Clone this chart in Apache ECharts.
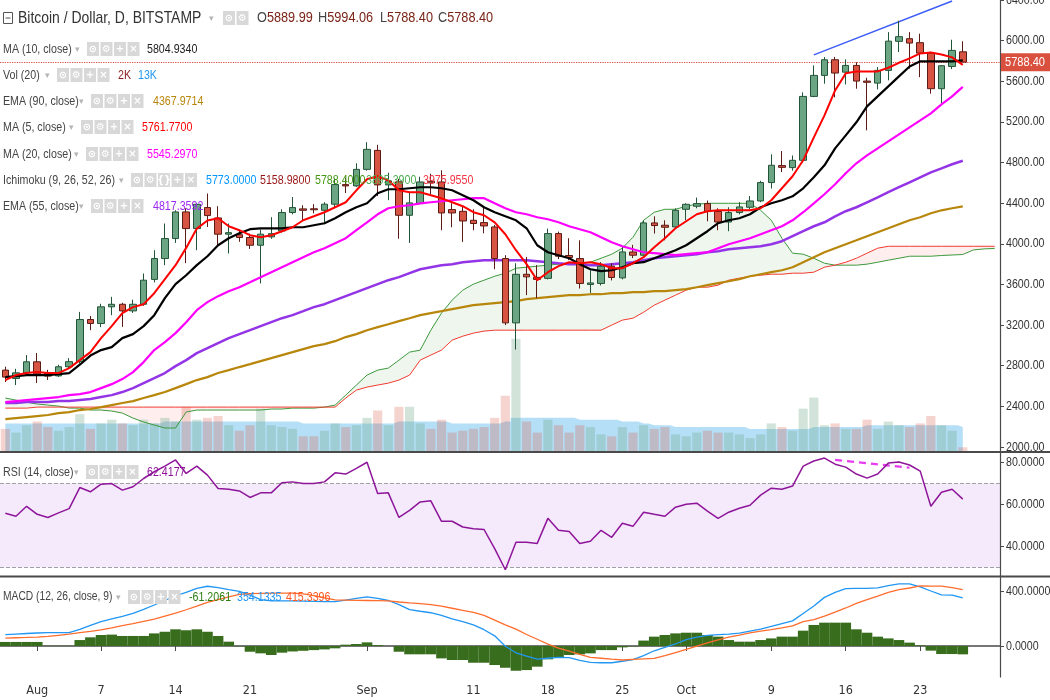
<!DOCTYPE html>
<html><head><meta charset="utf-8">
<script src="https://cdn.jsdelivr.net/npm/echarts@6/dist/echarts.min.js"></script>
<style>html,body{margin:0;padding:0;background:#fff}#c{width:1050px;height:700px}</style>
</head><body><div id="c"></div>
<script>
// ---------------- DATA ----------------
const categories = [
'2017-07-29','2017-07-30','2017-07-31',
'2017-08-01','2017-08-02','2017-08-03','2017-08-04','2017-08-05','2017-08-06','2017-08-07','2017-08-08','2017-08-09','2017-08-10',
'2017-08-11','2017-08-12','2017-08-13','2017-08-14','2017-08-15','2017-08-16','2017-08-17','2017-08-18','2017-08-19','2017-08-20',
'2017-08-21','2017-08-22','2017-08-23','2017-08-24','2017-08-25','2017-08-26','2017-08-27','2017-08-28','2017-08-29','2017-08-30','2017-08-31',
'2017-09-01','2017-09-02','2017-09-03','2017-09-04','2017-09-05','2017-09-06','2017-09-07','2017-09-08','2017-09-09','2017-09-10',
'2017-09-11','2017-09-12','2017-09-13','2017-09-14','2017-09-15','2017-09-16','2017-09-17','2017-09-18','2017-09-19','2017-09-20',
'2017-09-21','2017-09-22','2017-09-23','2017-09-24','2017-09-25','2017-09-26','2017-09-27','2017-09-28','2017-09-29','2017-09-30',
'2017-10-01','2017-10-02','2017-10-03','2017-10-04','2017-10-05','2017-10-06','2017-10-07','2017-10-08','2017-10-09','2017-10-10',
'2017-10-11','2017-10-12','2017-10-13','2017-10-14','2017-10-15','2017-10-16','2017-10-17','2017-10-18','2017-10-19','2017-10-20',
'2017-10-21','2017-10-22','2017-10-23','2017-10-24','2017-10-25','2017-10-26','2017-10-27','2017-10-28','2017-10-29','2017-10-30'];

const xTickLabels = {'2017-08-01':'Aug','2017-08-07':'7','2017-08-14':'14','2017-08-21':'21','2017-09-01':'Sep','2017-09-11':'11',
 '2017-09-18':'18','2017-09-25':'25','2017-10-01':'Oct','2017-10-09':'9','2017-10-16':'16','2017-10-23':'23'};
const priceTicks = [2000,2400,2800,3200,3600,4000,4400,4800,5200,5600,6000,6400];
const rsiTicks = [40,60,80];
const macdTicks = [0,400];

const opens = [2757,2675,2730,
 2839,2730,2700,2790,2840,3255,3216,3380,3405,3340,3405,3650,3855,4052,4314,4150,4357,4255,4095,4090,4062,3986,4068,4127,4308,4344,4345,4330,4390,4583,4570,
 4733,4920,4580,4610,4281,4396,4615,4609,4337,4320,4232,4209,4166,3855,3222,3700,3670,3660,4101,3885,3855,3600,3610,3780,3665,3920,3888,4206,4183,4166,
 4340,4370,4396,4318,4215,4308,4360,4422,4603,4770,4750,4822,5451,5658,5812,5690,5756,5602,5582,5707,5993,6019,5980,5877,5527,5746,5889.99];
const closes = [2688,2730,2839,
 2720,2698,2790,2840,3255,3216,3380,3405,3340,3405,3642,3855,4052,4314,4150,4389,4278,4095,4110,4062,3986,4095,4100,4308,4357,4330,4335,4390,4583,4570,4733,
 4930,4580,4620,4281,4403,4609,4600,4304,4304,4225,4200,4176,3855,3222,3700,3675,3650,4101,3878,3865,3610,3615,3780,3669,3920,3888,4206,4180,4163,4330,
 4389,4396,4318,4215,4308,4363,4422,4603,4773,4753,4822,5451,5658,5812,5681,5756,5602,5590,5707,5995,6039,5976,5877,5527,5753,5904,5788.40];
const highs = [2790,2770,2905,
 2925,2760,2810,2875,3330,3290,3410,3478,3420,3450,3708,3937,4200,4330,4350,4400,4495,4370,4200,4140,4100,4140,4262,4340,4461,4380,4390,4410,4645,4650,4793,
 5000,4975,4700,4640,4510,4660,4690,4724,4400,4363,4340,4360,4186,3888,3809,3871,3790,4150,4120,4055,4035,3740,3820,3810,3970,3990,4230,4271,4232,4350,
 4400,4455,4426,4350,4360,4410,4470,4620,4881,4914,4870,5491,5756,5838,5840,5815,5787,5635,5740,6084,6196,6084,6068,5890,5760,6009,5994.06];
const lows = [2640,2610,2720,
 2630,2660,2690,2770,2820,3150,3180,3298,3183,3320,3390,3620,3790,4009,3810,3937,4166,3970,3905,4020,3950,3610,4050,4110,4290,4230,4300,4193,4350,4500,4560,
 4720,4470,4430,4050,4009,4390,4490,4134,4163,4019,4134,4104,3750,3200,2960,3495,3465,3650,3850,3840,3560,3517,3590,3640,3650,3860,3870,4101,4035,4150,
 4232,4350,4222,4134,4124,4290,4340,4410,4544,4707,4720,4800,5444,5576,5442,5569,5527,5117,5520,5609,5887,5724,5641,5478,5380,5720,5788.40];

const ma5 = [2659,2708,2728,
 2738,2728,2728,2777,2855,2934,3072,3190,3318,3377,3406,3514,3652,3790,3960,4150,4230,4252,4173,4134,4085,4065,4085,4124,4163,4232,4271,4311,4360,4409,4527,
 4635,4665,4625,4527,4507,4507,4478,4448,4409,4370,4311,4281,4212,4094,3937,3800,3642,3721,3780,3819,3809,3819,3800,3760,3760,3809,3868,3967,4055,4153,
 4222,4291,4321,4330,4330,4330,4330,4350,4429,4547,4665,4822,5048,5265,5510,5678,5697,5697,5697,5733,5782,5825,5874,5884,5864,5835,5761.77];
const ma10 = [2688,2698,2708,
 2708,2708,2718,2728,2810,2900,2954,2983,3072,3111,3190,3298,3465,3603,3691,3790,3878,3986,4055,4104,4144,4153,4153,4153,4163,4163,4183,4203,4252,4311,4360,
 4399,4498,4537,4537,4547,4557,4557,4547,4527,4478,4429,4360,4311,4271,4232,4153,3986,3917,3888,3858,3800,3750,3731,3740,3770,3809,3819,3858,3898,3937,
 3986,4055,4124,4203,4232,4252,4291,4360,4399,4429,4468,4547,4655,4773,4940,5068,5196,5353,5451,5550,5648,5746,5796,5796,5796,5796,5804.93];
const ma20 = [2442,2452,2462,
 2472,2482,2492,2511,2521,2541,2580,2619,2669,2737,2836,2954,3032,3121,3229,3347,3426,3485,3534,3573,3622,3672,3721,3770,3819,3868,3917,3957,4006,4055,4134,
 4212,4291,4350,4370,4380,4399,4409,4419,4429,4439,4449,4449,4399,4350,4311,4291,4262,4242,4212,4173,4143,4114,4065,4016,3976,3947,3917,3908,3898,3888,
 3898,3908,3917,3957,3996,4026,4055,4094,4134,4173,4232,4311,4399,4488,4586,4694,4793,4871,4940,5009,5078,5147,5215,5284,5373,5451,5545.30];
const ema55 = [2433,2433,2442,
 2442,2442,2452,2452,2462,2472,2492,2511,2541,2580,2629,2678,2728,2796,2855,2924,2973,3023,3072,3111,3150,3190,3229,3268,3298,3337,3377,3406,3446,3485,3524,
 3564,3603,3642,3672,3711,3750,3770,3790,3800,3819,3829,3839,3839,3839,3839,3839,3829,3819,3809,3800,3800,3790,3790,3800,3809,3819,3839,3858,3868,3878,
 3888,3898,3917,3927,3947,3957,3967,3976,3996,4026,4075,4124,4173,4212,4271,4321,4360,4409,4458,4508,4557,4606,4655,4704,4743,4783,4817.36];
const ema90 = [2275,2285,2295,
 2305,2315,2334,2344,2364,2374,2393,2413,2433,2452,2482,2511,2541,2580,2619,2659,2688,2728,2757,2787,2816,2846,2875,2905,2934,2964,2993,3013,3042,3082,3111,
 3150,3180,3209,3239,3268,3298,3318,3337,3357,3377,3396,3406,3416,3426,3436,3455,3465,3475,3485,3495,3495,3504,3504,3514,3514,3524,3524,3534,3534,3544,
 3554,3573,3593,3613,3632,3652,3681,3701,3721,3740,3770,3819,3868,3917,3957,3996,4035,4075,4114,4153,4193,4232,4262,4301,4330,4350,4367.97];
// Ichimoku leading spans (displaced 26 bars forward, so they run past the last candle)
const spanA = [2482,2462,2442,
 2423,2413,2403,2383,2383,2364,2364,2354,2334,2285,2246,2216,2187,2187,2344,2364,2364,2364,2364,2364,2364,2364,2374,2374,2383,2383,2383,2393,2413,2511,2610,
 2708,2757,2777,2855,2934,2954,3150,3318,3446,3544,3603,3642,3681,3711,3760,3770,3780,3790,3800,3809,3809,3819,3858,3898,3957,4065,4232,4311,4340,4340,
 4370,4390,4399,4399,4399,4399,4399,4330,4232,4055,3908,3898,3858,3809,3790,3790,3790,3800,3819,3839,3858,3878,3878,3878,3885,3890,3895,3940,3950,3955];
const spanB = [2383,2383,2383,
 2393,2393,2393,2393,2393,2393,2393,2393,2393,2393,2393,2393,2393,2393,2393,2393,2393,2393,2393,2393,2393,2393,2393,2393,2393,2393,2393,2393,2393,2482,2560,
 2590,2610,2629,2659,2708,2855,2905,2954,3052,3091,3121,3141,3150,3150,3150,3150,3150,3150,3150,3150,3150,3150,3150,3200,3249,3268,3327,3396,3446,3495,
 3544,3573,3573,3593,3642,3662,3681,3691,3701,3701,3711,3711,3721,3770,3790,3819,3858,3908,3957,3976,3976,3976,3976,3976,3976,3976,3976,3976,3976,3976];

const volumesK = [12,10,14,
 16,13,11,13,20,12,15,17,15,14,17,15,18,16,24,17,18,19,14,11,14,23,14,13,12,8,8,11,15,13,14,
 18,22,14,24,24,15,12,17,10,11,12,13,18,30,61,16,10,17,14,10,14,13,9,8,13,10,14,12,13,9,
 8,10,11,10,10,9,7,9,15,13,11,23,29,14,15,12,12,17,12,16,14,13,15,19,14,11,2];
const volumeMaK = [15,15,15,
 15,15,15,15,15,15,15,15,15,15,15,15,16,16,16,16,16,16,16,16,16,16,16,16,16,15,15,15,15,15,15,
 15,15,15,16,16,16,16,16,15,15,15,15,15,16,18,18,18,18,18,18,17,17,17,17,16,16,15,14,14,13,
 13,13,13,13,13,13,12,12,12,12,12,12,13,13,13,13,13,14,14,14,14,14,14,14,14,14,13];

const rsi = [55.7,54.3,59.0,
 55.2,53.7,55.9,57.9,67.9,65.9,69.5,69.8,66.7,68.3,72.2,75.4,78.1,81.0,74.6,78.1,73.8,67.5,67.1,66.3,63.2,65.4,65.4,70.2,70.6,69.8,69.8,70.6,74.9,74.3,77.0,
 79.9,65.1,65.4,53.7,57.1,61.1,61.6,51.9,51.9,49.2,48.4,48.0,38.9,28.9,42.0,41.9,41.4,53.3,47.6,47.1,41.4,42.4,47.6,44.3,51.0,49.5,56.2,55.2,54.3,58.6,
 60.0,60.5,56.7,53.3,56.2,58.1,59.5,64.3,67.6,67.1,68.6,78.1,80.5,81.9,79.0,77.6,74.3,72.4,74.3,79.5,80.0,78.6,75.7,59.0,65.7,67.1,62.4177];
const macdLine = [84,88,92,
 96,98,98,98,123,152,180,200,218,240,270,302,335,370,395,425,440,430,415,402,375,342,333,333,333,331,329,327,327,338,350,
 362,350,335,305,268,256,245,225,200,180,155,120,75,-2,-50,-75,-97,-90,-83,-85,-105,-120,-123,-123,-112,-100,-70,-35,-10,15,
 47,65,78,84,88,95,110,125,145,165,185,240,295,358,395,423,425,425,428,445,457,457,435,405,376,374,354.1335];
const signalLine = [58,61,63,
 66,71,79,87,98,108,119,134,150,165,181,198,220,242,267,293,322,342,361,380,385,387,389,390,390,384,371,355,339,338,336,
 335,334,333,324,317,312,305,293,278,263,248,225,190,155,124,85,50,14,-15,-38,-62,-84,-90,-97,-103,-99,-95,-91,-71,-48,
 -25,0,23,46,66,81,97,110,121,133,148,180,195,220,250,280,314,342,368,395,415,427,442,441,441,430,415.3396];
const macdHist = [30,30,30,
 30,2,2,2,44,64,81,84,74,74,74,93,105,123,116,123,105,74,32,-3,-42,-54,-66,-49,-40,-35,-30,-25,-17,10,15,
 27,7,0,-42,-61,-61,-61,-91,-103,-103,-123,-123,-140,-160,-182,-177,-152,-98,-83,-66,-61,-54,-30,-30,-10,-3,40,69,81,93,
 98,98,81,69,44,32,32,44,56,69,69,113,155,172,172,172,123,98,69,56,44,25,5,-34,-59,-59,-61.2061];

const lastPrice = 5788.40;
const trendLine = [['2017-10-13', 5860], ['2017-10-26', 6390]];
const rsiDivergence = [['2017-10-15', 81.0], ['2017-10-22', 77.3]];

// legend texts
const titleText = 'Bitcoin / Dollar, D, BITSTAMP';
const ohlcText = [['O','5889.99'],['H','5994.06'],['L','5788.40'],['C','5788.40']];

// ---------------- CHART ----------------
const FONT = "'Liberation Sans', Arial, sans-serif";
const SX = 0.82;   // horizontal squeeze -> narrow face like the reference
const chart = echarts.init(document.getElementById('c'), null, {renderer:'canvas', width:1050, height:700});

const candleData = opens.map((o,i)=>[o, closes[i], lows[i], highs[i]]);
const cloudLow = spanA.map((a,i)=>Math.min(a, spanB[i]));
const cloudGreen = spanA.map((a,i)=>Math.max(a - spanB[i], 0));
const cloudRed = spanA.map((a,i)=>Math.max(spanB[i] - a, 0));
const volData = volumesK.map((v,i)=>({value:v, itemStyle:{color: closes[i]>=opens[i] ? 'rgba(107,165,131,0.30)' : 'rgba(215,84,66,0.26)'}}));

const isTick = (idx, val) => Object.prototype.hasOwnProperty.call(xTickLabels, val);

function xAx(gi, show){
  return {type:'category', gridIndex:gi, data:categories, boundaryGap:true,
    axisLine:{show:show, lineStyle:{color:'#4a4a4a', width:1.5}},
    axisTick:{show:show, interval:isTick, alignWithLabel:true, length:5, lineStyle:{color:'#4a4a4a'}},
    axisLabel:{show:show, interval:isTick, formatter:v=>xTickLabels[v]||'', color:'#333', fontFamily:"'DejaVu Sans Condensed','Liberation Sans',sans-serif", fontSize:12.5, margin:7},
    splitLine:{show:false}};
}
function yAx(gi, min, max, ticks){
  return {type:'value', gridIndex:gi, position:'right', min:min, max:max, scale:true,
    axisLine:{show:true, lineStyle:{color:'#4a4a4a', width:1.2}},
    axisTick:{show:true, customValues:ticks, length:4, lineStyle:{color:'#4a4a4a'}},
    axisLabel:{show:false},
    splitLine:{show:false}};
}

const line = (name, data, color, width, z) => ({name, type:'line', xAxisIndex:0, yAxisIndex:0, data, symbol:'none', z:z||5,
  lineStyle:{color, width}, emphasis:{disabled:true}});

// legend graphics (narrowed text)
const G = [];
function stxt(x, y, s, color, size, extra){
  G.push({type:'text', z:100, silent:true, x:x, y:y, scaleX:SX,
    style:Object.assign({x:0, y:0, text:s, fill:color, font:`${size}px ${FONT}`, align:'left', verticalAlign:'middle'}, extra||{})});
}
function icons(x, y, glyphs){
  glyphs.forEach((g,i)=>{
    const bx = x + i*13.5;
    G.push({type:'rect', z:100, silent:true, shape:{x:bx, y:y-7, width:12, height:14}, style:{fill:'#d8d8d8'}});
    G.push({type:'text', z:101, silent:true, style:{x:bx+6, y:y, text:g, fill:'#ffffff', font:"bold 10px 'DejaVu Sans'",
      align:'center', verticalAlign:'middle'}});
  });
}
function row(y, name, ix, nIcons, vals, size){
  stxt(3, y, name, '#444', size||13);
  G.push({type:'text', z:100, silent:true, style:{x:ix-12, y:y+1, text:'\u25BE', fill:'#b5b5b5', font:"9px 'DejaVu Sans'", align:'left', verticalAlign:'middle'}});
  const gl = nIcons===5 ? ['\u2299','\u2699','{}','+','\u00D7'] : ['\u2299','\u2699','+','\u00D7'];
  icons(ix, y, gl);
  vals.forEach(v=>stxt(v[2], y, v[0], v[1], 13));
}
// title row
G.push({type:'rect', z:100, silent:true, shape:{x:3.5, y:12.5, width:9, height:11}, style:{fill:'#fff', stroke:'#555', lineWidth:1}});
G.push({type:'line', z:101, silent:true, shape:{x1:5.5, y1:18, x2:10.5, y2:18}, style:{stroke:'#555', lineWidth:1}});
stxt(18, 18, titleText, '#333', 17);
G.push({type:'text', z:100, silent:true, style:{x:209, y:19, text:'\u25BE', fill:'#b5b5b5', font:"9px 'DejaVu Sans'", align:'left', verticalAlign:'middle'}});
icons(223, 18, ['\u2299','\u2699']);
ohlcText.forEach((p,i)=>{
  const x0 = [257, 318, 380, 438][i];
  stxt(x0, 18, `{l|${p[0]}}{v|${p[1]}}`, '#444', 15.5,
    {rich:{l:{fill:'#444', font:`15.5px ${FONT}`}, v:{fill:'#7a2418', font:`15.5px ${FONT}`}}});
});

row(49, 'MA (10, close)', 87, 4, [['5804.9340','#222',147]]);
row(75, 'Vol (20)', 57, 4, [['2K','#8b1f1f',118],['13K','#2196f3',138]]);
row(101, 'EMA (90, close)', 91, 4, [['4367.9714','#b8860b',153]]);
row(127, 'MA (5, close)', 81, 4, [['5761.7700','#ff0000',142]]);
row(154, 'MA (20, close)', 86, 4, [['5545.2970','#ff00ff',147]]);
row(180, 'Ichimoku (9, 26, 52, 26)', 131, 5, [['5773.0000','#0496ff',206],['5158.9800','#991515',260],['5788.4000','#459915',315],['3895.3900','#4caf50',366],['3975.9550','#f23645',423]]);
row(206, 'EMA (55, close)', 91, 4, [['4817.3592','#9c27f0',153]]);
row(472, 'RSI (14, close)', 86, 4, [['62.4177','#8e1599',147]]);
row(597, 'MACD (12, 26, close, 9)', 128, 4, [['-61.2061','#2e7d12',189],['354.1335','#2196f3',237],['415.3396','#ff5722',286]], 12.5);
// pane separators
G.push({type:'line', z:90, silent:true, shape:{x1:0, y1:452, x2:1050, y2:452}, style:{stroke:'#4a4a4a', lineWidth:2}});
G.push({type:'line', z:90, silent:true, shape:{x1:0, y1:576.5, x2:1050, y2:576.5}, style:{stroke:'#4a4a4a', lineWidth:2}});

const option = {
  animation:false,
  backgroundColor:'#ffffff',
  grid:[
    {left:0, width:1000, top:0, height:452},
    {left:0, width:1000, top:300, height:151},
    {left:0, width:1000, top:453, height:123.5},
    {left:0, width:1000, top:577, height:100}
  ],
  xAxis:[xAx(0,false), xAx(1,false), xAx(2,false), xAx(3,true)],
  yAxis:[
    yAx(0, 1951, 6400, priceTicks),
    {type:'value', gridIndex:1, min:0, max:82, show:false},
    yAx(2, 25.7, 84.3, rsiTicks),
    yAx(3, -228, 508, macdTicks)
  ],
  series:[
    {name:'VolMA', type:'line', xAxisIndex:1, yAxisIndex:1, data:volumeMaK, symbol:'none', z:1, step:'middle',
     lineStyle:{width:0}, areaStyle:{color:'rgba(120,196,238,0.55)', opacity:1}},
    {name:'Volume', type:'bar', xAxisIndex:1, yAxisIndex:1, data:volData, barWidth:'86%', z:2},
    {name:'cloudLow', type:'line', xAxisIndex:0, yAxisIndex:0, data:cloudLow, stack:'cloud', symbol:'none', z:2, lineStyle:{width:0}},
    {name:'cloudGreen', type:'line', xAxisIndex:0, yAxisIndex:0, data:cloudGreen, stack:'cloud', symbol:'none', z:2, lineStyle:{width:0},
     areaStyle:{color:'rgba(67,160,71,0.13)'}},
    {name:'cloudRed', type:'line', xAxisIndex:0, yAxisIndex:0, data:cloudRed, stack:'cloud', symbol:'none', z:2, lineStyle:{width:0},
     areaStyle:{color:'rgba(244,67,54,0.13)'}},
    line('Lead A', spanA, '#3d9a3d', 1, 3),
    line('Lead B', spanB, '#f23b2f', 1, 3),
    line('EMA90', ema90, '#b8860b', 2.2, 4),
    line('EMA55', ema55, '#9334e6', 2.5, 4),
    line('MA20', ma20, '#ff00ff', 2.2, 6),
    line('MA10', ma10, '#000000', 2.2, 6),
    line('MA5', ma5, '#ff0000', 2, 6),
    {name:'Price', type:'candlestick', xAxisIndex:0, yAxisIndex:0, data:candleData, barWidth:7, z:5,
     itemStyle:{color:'#6ba583', color0:'#d75442', borderColor:'#225437', borderColor0:'#5b1a13', borderWidth:1},
     markLine:{silent:true, symbol:['none','none'], animation:false, label:{show:false},
       data:[
         {yAxis:lastPrice, lineStyle:{color:'#d9463b', type:'dotted', width:1.2}},
         [{coord:trendLine[0], lineStyle:{color:'#3f5ef5', type:'solid', width:1.5}}, {coord:trendLine[1]}]
       ]}},
    {name:'RSI', type:'line', xAxisIndex:2, yAxisIndex:2, data:rsi, symbol:'none', z:5,
     lineStyle:{color:'#8e1599', width:1.5},
     markArea:{silent:true, itemStyle:{color:'rgba(155,60,230,0.11)'}, data:[[{yAxis:30},{yAxis:70}]]},
     markLine:{silent:true, symbol:['none','none'], label:{show:false},
       data:[
         {yAxis:70, lineStyle:{color:'#a0a0a0', type:'dashed', width:1}},
         {yAxis:30, lineStyle:{color:'#a0a0a0', type:'dashed', width:1}},
         [{coord:rsiDivergence[0], lineStyle:{color:'#e83cf0', type:[7,5], width:2.2}}, {coord:rsiDivergence[1]}]
       ]}},
    {name:'Histogram', type:'bar', xAxisIndex:3, yAxisIndex:3, data:macdHist, barCategoryGap:'0%', z:2,
     itemStyle:{color:'#376d1c'}},
    {name:'MACD', type:'line', xAxisIndex:3, yAxisIndex:3, data:macdLine, symbol:'none', z:4, lineStyle:{color:'#2196f3', width:1.3}},
    {name:'Signal', type:'line', xAxisIndex:3, yAxisIndex:3, data:signalLine, symbol:'none', z:4, lineStyle:{color:'#ff6d2e', width:1.3}}
  ]
};
chart.setOption(option);

// value-axis labels placed through the axes' own scales (narrow face like the reference)
function axisLabels(axisIdx, ticks, digits){
  ticks.forEach(v=>{
    const py = chart.convertToPixel({yAxisIndex:axisIdx}, v);
    stxt(1006, py, v.toFixed(digits), '#333', 13);
  });
}
axisLabels(0, priceTicks, 2);
axisLabels(2, rsiTicks, 4);
axisLabels(3, macdTicks, 4);
// last-price tag on the price axis
const lpY = chart.convertToPixel({yAxisIndex:0}, lastPrice);
G.push({type:'rect', z:110, silent:true, shape:{x:1001, y:lpY-9, width:49, height:18}, style:{fill:'#d9503f'}});
stxt(1005, lpY, lastPrice.toFixed(2), '#ffffff', 13.5, {});
G[G.length-1].z = 111;
chart.setOption({graphic:G});
</script></body></html>
